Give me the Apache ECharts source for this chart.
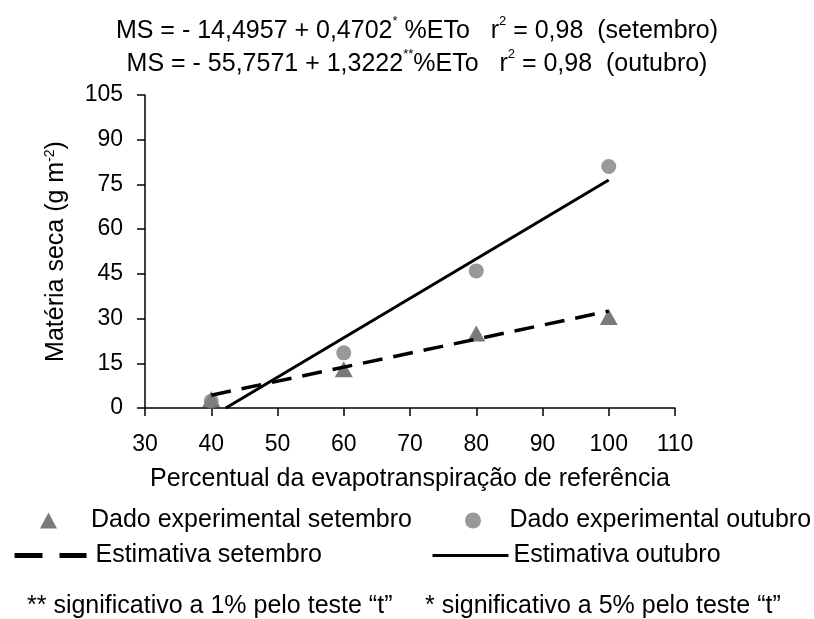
<!DOCTYPE html>
<html>
<head>
<meta charset="utf-8">
<script src="https://cdn.jsdelivr.net/npm/echarts@6/dist/echarts.min.js"></script>
<style>
  html, body { margin: 0; padding: 0; background: #fff; }
  #main { width: 814px; height: 619px; }
</style>
</head>
<body>
<div id="main"></div>
<script>
// percentual da ETo
var percEto = [40, 60, 80, 100]
// materia seca (g m-2)
var msSetembro = [3, 13, 25, 30.5]
var msOutubro = [2.3, 18.5, 46, 81]
// extremos das retas estimadas
var estSetembro = [[40, 4.3], [100, 32.5]]
var estOutubro = [[42.2, 0], [100, 76.5]]

var FONT = 'Liberation Sans'
var chart = echarts.init(document.getElementById('main'))

function pairs(xs, ys) {
  var out = []
  for (var i in xs) {
    out.push([xs[i], ys[i]])
  }
  return out
}

function legendItem(name, left, top, pad, extra) {
  var l = {
    data: [name],
    left: left,
    top: top,
    itemWidth: 17,
    itemHeight: 16,
    padding: 0,
    selectedMode: false,
    textStyle: { fontFamily: FONT, fontSize: 25, color: '#000', padding: [0, 0, 0, pad] }
  }
  return Object.assign(l, extra || {})
}

var option = {
  animation: false,
  backgroundColor: '#fff',
  title: {
    left: 412,
    top: 10,
    textAlign: 'center',
    text: 'MS = - 14,4957 + 0,4702{sup|*} %ETo   r{sup|2} = 0,98  (setembro)\nMS = - 55,7571 + 1,3222{sup|**}%ETo   r{sup|2} = 0,98  (outubro)',
    textStyle: {
      fontFamily: FONT,
      fontSize: 25,
      fontWeight: 'normal',
      color: '#000',
      lineHeight: 33,
      rich: {
        sup: { fontFamily: FONT, fontSize: 13, color: '#000', verticalAlign: 'top', lineHeight: 33, padding: [0, 0, 14, 0] }
      }
    }
  },
  grid: {
    left: 145,
    right: 139,
    top: 95,
    bottom: 211
  },
  xAxis: {
    type: 'value',
    min: 30,
    max: 110,
    interval: 10,
    name: 'Percentual da evapotranspiração de referência',
    nameLocation: 'middle',
    nameGap: 59,
    nameTextStyle: { fontFamily: FONT, fontSize: 25, color: '#000' },
    axisLine: { onZero: false, lineStyle: { color: '#000', width: 1.5 } },
    axisTick: { length: 8, lineStyle: { color: '#000', width: 1.5 } },
    axisLabel: { fontFamily: FONT, fontSize: 23, color: '#000', margin: 25 },
    splitLine: { show: false }
  },
  yAxis: {
    type: 'value',
    min: 0,
    max: 105,
    interval: 15,
    name: 'Matéria seca (g m{sup|-2})',
    nameLocation: 'middle',
    nameRotate: 90,
    nameGap: 76,
    nameTextStyle: {
      fontFamily: FONT,
      fontSize: 25,
      color: '#000',
      rich: {
        sup: { fontFamily: FONT, fontSize: 14, color: '#000', verticalAlign: 'top', padding: [0, 0, 12, 0] }
      }
    },
    axisLine: { show: true, lineStyle: { color: '#000', width: 1.5 } },
    axisTick: { show: true, length: 8, lineStyle: { color: '#000', width: 1.5 } },
    axisLabel: { fontFamily: FONT, fontSize: 23, color: '#000', margin: 22 },
    splitLine: { show: false }
  },
  legend: [
    legendItem('Dado experimental setembro', 40, 508, 29),
    legendItem('Dado experimental outubro', 465, 508, 23),
    legendItem('Estimativa setembro', 12, 543, 4, {
      itemWidth: 72, itemHeight: 16,
      itemStyle: { opacity: 0 },
      lineStyle: { type: [28, 17], width: 5, color: '#000' }
    }),
    legendItem('Estimativa outubro', 431, 543, 0, {
      itemWidth: 76, itemHeight: 16,
      itemStyle: { opacity: 0 },
      lineStyle: { type: 'solid', width: 3, color: '#000' }
    })
  ],
  graphic: [
    {
      type: 'text',
      left: 27,
      top: 594,
      style: { text: '** significativo a 1% pelo teste \u201ct\u201d', font: '25px "Liberation Sans"', fill: '#000' }
    },
    {
      type: 'text',
      left: 425,
      top: 594,
      style: { text: '* significativo a 5% pelo teste \u201ct\u201d', font: '25px "Liberation Sans"', fill: '#000' }
    }
  ],
  series: [
    {
      name: 'Dado experimental setembro',
      type: 'scatter',
      symbol: 'triangle',
      symbolSize: [18, 16],
      itemStyle: { color: '#595959' },
      data: pairs(percEto, msSetembro),
      z: 2
    },
    {
      name: 'Dado experimental outubro',
      type: 'scatter',
      symbol: 'circle',
      symbolSize: 15,
      itemStyle: { color: '#808080' },
      data: pairs(percEto, msOutubro),
      z: 2
    },
    {
      name: 'Estimativa setembro',
      type: 'line',
      symbol: 'none',
      lineStyle: { color: '#000', width: 3.5, type: [20, 11] },
      itemStyle: { color: '#000' },
      data: estSetembro,
      z: 3
    },
    {
      name: 'Estimativa outubro',
      type: 'line',
      symbol: 'none',
      lineStyle: { color: '#000', width: 3 },
      itemStyle: { color: '#000' },
      data: estOutubro,
      z: 3
    }
  ]
}

chart.setOption(option)
</script>
</body>
</html>
